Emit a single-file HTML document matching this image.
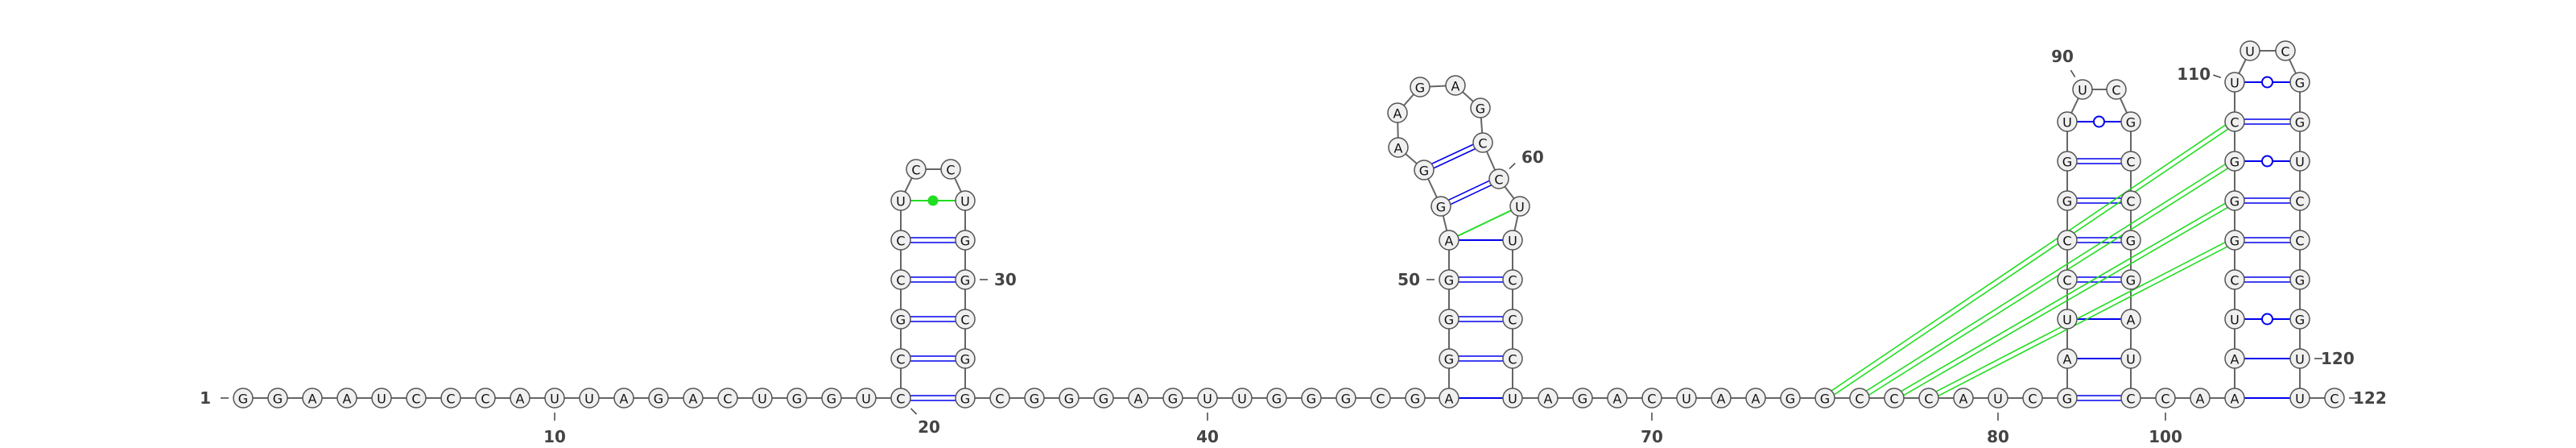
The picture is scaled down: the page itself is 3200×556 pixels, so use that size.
<!DOCTYPE html>
<html><head><meta charset="utf-8"><title>RNA secondary structure</title>
<style>
html,body{margin:0;padding:0;background:#fff;}
svg{display:block;}
.nt{font-family:"DejaVu Sans","Liberation Sans",sans-serif;font-size:16px;fill:#111;text-anchor:middle;dominant-baseline:central;}
.lbl{font-family:"DejaVu Sans","Liberation Sans",sans-serif;font-size:20px;font-weight:bold;fill:#444;dominant-baseline:central;}
</style></head>
<body>
<svg id="rna" width="3200" height="556" viewBox="0 0 3200 556" xmlns="http://www.w3.org/2000/svg">
<g id="backbone"></g>
<g id="pairs"></g>
<g id="nts"></g>
<g id="labels"></g>
</svg>
<script>
// ---- data ----
const sequence = "GGAAUCCCAUUAGACUGGU" + "CCGCCUCCUGGCGG" + "CGGGAGUUGGGCG" + "AGGGAGGAAGAGCCUUCCCU" + "AGACUAAGGCCCAUC" + "GAUCCGGUUCGCCGGAUC" + "CA" + "AAUCGGGCUUCGGUCCGGUUC";
const pairI =  [20,21,22,23,24,25, 47,48,49,50,51,52,53,51, 82,83,84,85,86,87,88,89, 102,103,104,105,106,107,108,109,110, 75,76,77,78];
const pairJ =  [33,32,31,30,29,28, 66,65,64,63,62,60,59,61, 99,98,97,96,95,94,93,92, 121,120,119,118,117,116,115,114,113, 109,108,107,106];
const pairType=["d","d","d","d","d","gdot", "s","d","d","d","s","d","d","g", "d","s","s","d","d","d","d","w", "s","s","w","d","d","d","w","d","w", "gg","gg","gg","gg"];
const labelNums=[1,10,20,30,40,50,60,70,80,90,100,110,120,122];
const labelDx = [-40,0,35,36,0,-36,28,0,0,-25,0,-30,26,23];
const labelDy = [0,48,36,0,48,0,-27,48,48,-41,48,-10,0,0];
const labelAnchor=["end","middle","middle","start","middle","end","start","middle","middle","middle","middle","end","start","start"];

// ---- layout ----
const BASE=494, ROW=49, SP=43, R=12;
const pos={};
const rowY=r=>BASE-r*ROW;
let x=302;
const stemSpans={20:33,47:66,82:99,102:121};
const stemWidth={20:80,47:79,82:79,102:81};
for(let i=1;i<=122;i++){
  if(pos[i]) continue;
  pos[i]={x:x,y:BASE};
  if(stemSpans[i]){const j=stemSpans[i];
    x+=stemWidth[i]; pos[j]={x:x,y:BASE}; i=j; }
  x+=SP;
}
function stem(l,r,loopA,loopB,rows,loopY){
  const lx=pos[l].x, rx=pos[r].x;
  for(let k=0;k<rows;k++){pos[l+k]={x:lx,y:rowY(k)};pos[r-k]={x:rx,y:rowY(k)};}
  pos[loopA]={x:lx+19,y:loopY};pos[loopB]={x:rx-18,y:loopY};
}
stem(20,33,26,27,6,210);
stem(82,99,90,91,8,111);
stem(102,121,111,112,9,63);
for(let k=0;k<5;k++){pos[47+k]={x:1800,y:rowY(k)};pos[66-k]={x:1879,y:rowY(k)};}
const s2=[[52,1790,256],[53,1769,211],[54,1737,183],[55,1736,140],[56,1764,108],[57,1808,106],[58,1839,134],[59,1842,177],[60,1862,222],[61,1888,256]];
s2.forEach(p=>pos[p[0]]={x:p[1],y:p[2]});

const NS="http://www.w3.org/2000/svg";
function mk(tag,attrs,parent){const e=document.createElementNS(NS,tag);for(const k in attrs)e.setAttribute(k,attrs[k]);parent.appendChild(e);return e;}
const gB=document.getElementById('backbone'),gP=document.getElementById('pairs'),gN=document.getElementById('nts'),gL=document.getElementById('labels');

for(let i=1;i<122;i++){
  const a=pos[i],b=pos[i+1];
  const ln=mk('line',{x1:a.x,y1:a.y,x2:b.x,y2:b.y,stroke:'#666','stroke-width':2},gB);
  
  
}
function dbl(a,b,color,off,g,name){
  const dx=b.x-a.x,dy=b.y-a.y,L=Math.hypot(dx,dy),nx=-dy/L*off,ny=dx/L*off;
  const ux=dx/L*R,uy=dy/L*R;
  [1,-1].forEach(s=>{
    const l=mk('line',{x1:a.x+ux+s*nx,y1:a.y+uy+s*ny,x2:b.x-ux+s*nx,y2:b.y-uy+s*ny,stroke:color,'stroke-width':1.6},g);
    
    
  });
}
pairI.forEach((i,k)=>{
  const a=pos[i],b=pos[pairJ[k]],t=pairType[k];
  if(t==='d'){dbl(a,b,'#0000ee',3,gP,'base-pair-gc');}
  else if(t==='gg'){dbl(a,b,'#22dd22',3,gP,'pseudoknot-pair');}
  else {
    const col=(t==='g'||t==='gdot')?'#22dd22':'#0000ee';
    const l=mk('line',{x1:a.x,y1:a.y,x2:b.x,y2:b.y,stroke:col,'stroke-width':2},gP);
    
    
    const mx=(a.x+b.x)/2,my=(a.y+b.y)/2;
    if(t==='w'){const c=mk('circle',{cx:mx,cy:my,r:6.5,fill:'#fff',stroke:'#0000ee','stroke-width':2},gP);
      
      }
    if(t==='gdot'){const c=mk('circle',{cx:mx,cy:my,r:6.5,fill:'#22dd22',stroke:'none'},gP);
      
      }
  }
});
for(let i=1;i<=122;i++){
  const p=pos[i];
  const g=mk('g',{},gN);
  
  
  mk('circle',{cx:p.x,cy:p.y,r:R,fill:'#f0f0f0',stroke:'#555','stroke-width':1.5},g);
  const t=mk('text',{x:p.x,y:p.y+1,class:'nt'},g);t.textContent=sequence[i-1];
}
labelNums.forEach((n,k)=>{
  const p=pos[n],dx=labelDx[k],dy=labelDy[k];
  const g=mk('g',{},gL);
  
  
  const L=Math.hypot(dx,dy),ux=dx/L,uy=dy/L;
  mk('line',{x1:p.x+ux*(R+6),y1:p.y+uy*(R+6),x2:p.x+ux*(R+16),y2:p.y+uy*(R+16),stroke:'#444','stroke-width':1.5},g);
  const t=mk('text',{x:p.x+dx,y:p.y+dy,class:'lbl','text-anchor':labelAnchor[k]},g);t.textContent=n;
});
</script>
</body></html>
